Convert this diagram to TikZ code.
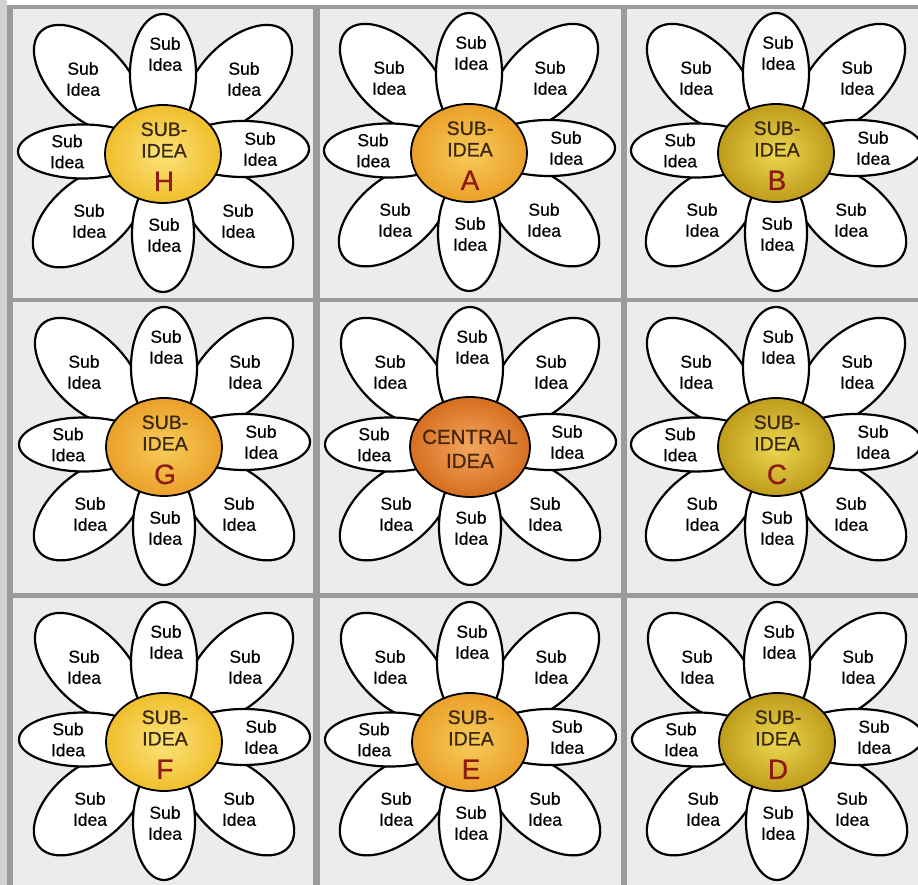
\documentclass[tikz,border=0pt]{standalone}
\usepackage{fontspec}
\setmainfont{Liberation Sans}
\newfontfamily\petalfont[FakeBold=0.5]{Liberation Sans}
\newfontfamily\hubfont[FakeBold=0.7]{Liberation Sans}
\usetikzlibrary{shapes.geometric}
\definecolor{panelbg}{HTML}{ECECEC}
\definecolor{gridline}{HTML}{9B9B9B}
\definecolor{leftstrip}{HTML}{D2D2D2}
\definecolor{yelIn}{HTML}{FBE47A}
\definecolor{yelOut}{HTML}{F0BE2C}
\definecolor{orgIn}{HTML}{F8CC5A}
\definecolor{orgOut}{HTML}{EAA02A}
\definecolor{oliIn}{HTML}{ECD850}
\definecolor{oliOut}{HTML}{BF9B1C}
\definecolor{cenIn}{HTML}{F3A760}
\definecolor{cenOut}{HTML}{D66E1E}
\definecolor{capText}{HTML}{3A2812}
\definecolor{letterRed}{HTML}{8E1B12}
\definecolor{cenText}{HTML}{4A2408}
\tikzset{
  petal/.style={draw=black, fill=white, line width=2.2pt},
  ptext/.style={font=\petalfont\fontsize{17.5}{21}\selectfont, align=center, inner sep=0pt, text=black},
  hub/.style={ellipse, draw=black, line width=1.8pt, inner sep=0pt, minimum width=116pt, minimum height=98pt},
  hubtext/.style={font=\hubfont\fontsize{19.5}{21}\selectfont, inner sep=0pt, anchor=base, text=capText},
  hubletter/.style={font=\hubfont\fontsize{28}{30}\selectfont, inner sep=0pt, anchor=base, text=letterRed},
  gline/.style={draw=gridline}
}
\newcommand\petalset[3]{%
  \begin{scope}[shift={(#2,#3)}]
    \draw[petal, rotate=135] (106,0) ellipse [x radius=67, y radius=37];
    \draw[petal, rotate=45] (106,0) ellipse [x radius=67, y radius=37];
    \draw[petal, rotate=220] (97,0) ellipse [x radius=66, y radius=37];
    \draw[petal, rotate=-40] (97,0) ellipse [x radius=66, y radius=37];
    \draw[petal] (0,80) ellipse [x radius=33, y radius=60];
    \draw[petal] (0,-80) ellipse [x radius=31, y radius=58];
    \draw[petal] (-80,2.5) ellipse [x radius=65, y radius=27];
    \draw[petal] (80,5) ellipse [x radius=66, y radius=28];
    \node[ptext] (#1-pn) at (2,100) {Sub\\Idea};
    \node[ptext] (#1-ps) at (1,-81) {Sub\\Idea};
    \node[ptext] (#1-pw) at (-96,2.5) {Sub\\Idea};
    \node[ptext] (#1-pe) at (97,5) {Sub\\Idea};
    \node[ptext] (#1-pnw) at (-80,75) {Sub\\Idea};
    \node[ptext] (#1-pne) at (81,75) {Sub\\Idea};
    \node[ptext] (#1-psw) at (-74,-67) {Sub\\Idea};
    \node[ptext] (#1-pse) at (75,-67) {Sub\\Idea};
  \end{scope}}
\newcommand\subflower[6]{% name, x, y, inner, outer, letter
  \petalset{#1}{#2}{#3}
  \begin{scope}[shift={(#2,#3)}]
    \node[hub, inner color=#4, outer color=#5] (#1-hub) at (0,0) {};
    \node[hubtext] (#1-l1) at (1,18) {SUB-};
    \node[hubtext] (#1-l2) at (1,-3.5) {IDEA};
    \node[hubletter] (#1-l3) at (1,-37) {#6};
  \end{scope}}
\begin{document}
\begin{tikzpicture}[x=1pt,y=1pt]
  \useasboundingbox (0,0) rectangle (918,885);
  \fill[white] (0,0) rectangle (918,885);
  \fill[leftstrip] (0,0) rectangle (7,885);
  \fill[panelbg] (13,0) rectangle (918,876);
  % grid lines
  \fill[gridline] (7,0) rectangle (13,880);
  \fill[gridline] (7,876) rectangle (918,880);
  \fill[gridline] (313,0) rectangle (320,876);
  \fill[gridline] (621,0) rectangle (627,876);
  \fill[gridline] (13,583) rectangle (918,587);
  \fill[gridline] (13,287) rectangle (918,292);
  % flowers
  \subflower{H}{163}{731}{yelIn}{yelOut}{H}
  \subflower{A}{469}{732}{orgIn}{orgOut}{A}
  \subflower{B}{776}{732}{oliIn}{oliOut}{B}
  \subflower{G}{164}{438}{orgIn}{orgOut}{G}
  \petalset{X}{470}{438}
  \node[hub, minimum width=120pt, minimum height=100pt, inner color=cenIn, outer color=cenOut] (X-hub) at (470,438) {};
  \node[hubtext, font=\hubfont\fontsize{20.5}{22}\selectfont, text=cenText] (X-l1) at (470,441) {CENTRAL};
  \node[hubtext, font=\hubfont\fontsize{20.5}{22}\selectfont, text=cenText] (X-l2) at (470,417) {IDEA};
  \subflower{C}{776}{438}{oliIn}{oliOut}{C}
  \subflower{F}{164}{143}{yelIn}{yelOut}{F}
  \subflower{E}{470}{143}{orgIn}{orgOut}{E}
  \subflower{D}{777}{143}{oliIn}{oliOut}{D}
\end{tikzpicture}
\end{document}
